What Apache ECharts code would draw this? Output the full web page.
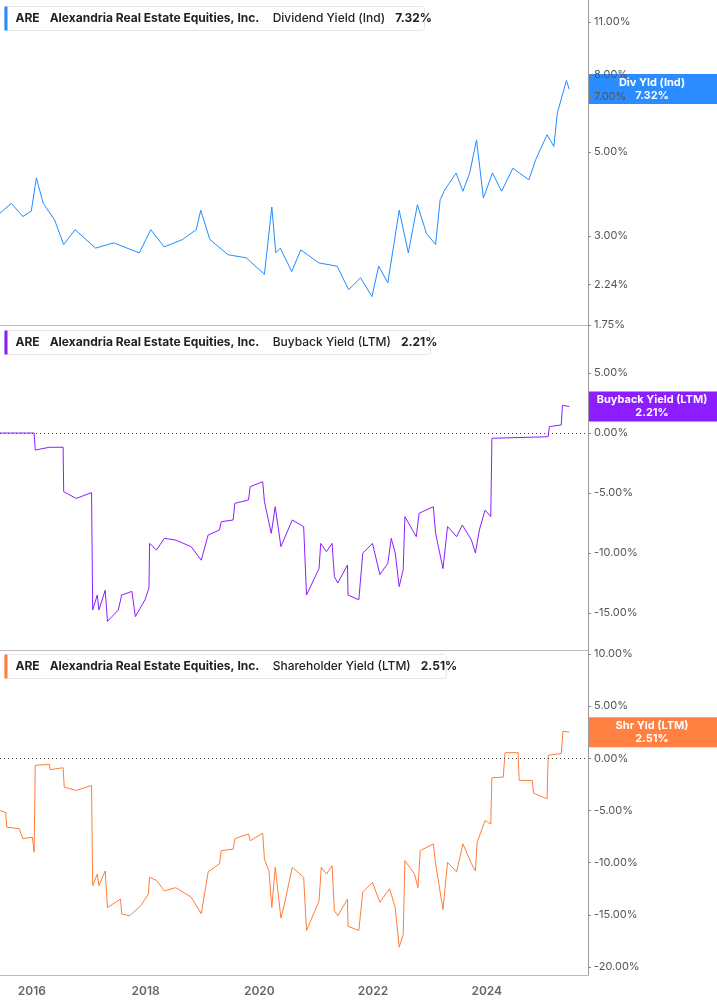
<!DOCTYPE html>
<html><head><meta charset="utf-8">
<script src="https://cdn.jsdelivr.net/npm/echarts@6/dist/echarts.min.js"></script>
<style>html,body{margin:0;padding:0;background:#fff}#c{width:717px;height:1005px}</style>
</head><body><div id="c"></div>
<script>
const yearTicks = [2016, 2018, 2020, 2022, 2024];
const divTicks = [1.75, 2.24, 3, 5, 7, 8, 11];
const buyTicks = [-15, -10, -5, 0, 5];
const shrTicks = [-20, -15, -10, -5, 0, 5, 10];

const divYield = [
[2015.44,3.45],[2015.64,3.66],[2015.84,3.38],[2015.99,3.49],[2016.08,4.27],[2016.20,3.66],[2016.40,3.31],[2016.56,2.85],[2016.76,3.12],[2017.12,2.79],[2017.44,2.88],[2017.89,2.71],[2018.09,3.12],[2018.33,2.81],[2018.65,2.94],[2018.89,3.12],[2018.97,3.51],[2019.13,2.94],[2019.45,2.68],[2019.77,2.63],[2020.09,2.38],[2020.22,3.58],[2020.29,2.71],[2020.37,2.79],[2020.57,2.42],[2020.73,2.76],[2021.05,2.55],[2021.37,2.50],[2021.57,2.17],[2021.78,2.33],[2021.98,2.08],[2022.10,2.50],[2022.26,2.26],[2022.46,3.51],[2022.62,2.71],[2022.78,3.63],[2022.94,3.05],[2023.10,2.85],[2023.18,3.74],[2023.26,3.97],[2023.46,4.40],[2023.58,3.94],[2023.70,4.40],[2023.82,5.38],[2023.94,3.78],[2024.10,4.40],[2024.26,3.94],[2024.46,4.53],[2024.74,4.22],[2024.86,4.77],[2025.06,5.55],[2025.18,5.17],[2025.24,6.32],[2025.40,7.71],[2025.45,7.32]
];
const buyback = [
[2015.44,0],[2016.04,0],[2016.06,-1.42],[2016.31,-1.19],[2016.55,-1.19],[2016.56,-4.89],[2016.78,-5.45],[2017.05,-4.97],[2017.07,-14.75],[2017.15,-13.5],[2017.18,-14.75],[2017.29,-13.1],[2017.33,-15.7],[2017.52,-14.75],[2017.58,-13.5],[2017.76,-13.2],[2017.82,-15.3],[2017.99,-13.9],[2018.06,-12.9],[2018.07,-9.2],[2018.19,-9.75],[2018.33,-8.78],[2018.53,-8.92],[2018.80,-9.47],[2018.98,-10.6],[2019.10,-8.5],[2019.30,-8.08],[2019.33,-7.39],[2019.54,-7.25],[2019.57,-5.86],[2019.81,-5.58],[2019.84,-4.47],[2020.06,-4.06],[2020.09,-5.72],[2020.21,-8.36],[2020.28,-6.14],[2020.38,-9.47],[2020.58,-7.25],[2020.78,-7.8],[2020.83,-13.5],[2021.05,-11.3],[2021.08,-9.2],[2021.18,-9.89],[2021.28,-9.2],[2021.32,-11.97],[2021.38,-12.5],[2021.55,-11.0],[2021.56,-13.5],[2021.75,-13.9],[2021.82,-10.0],[2021.99,-9.2],[2022.12,-11.8],[2022.26,-10.86],[2022.32,-8.78],[2022.39,-10.0],[2022.46,-12.8],[2022.53,-11.4],[2022.56,-6.97],[2022.76,-8.64],[2022.81,-6.69],[2023.06,-6.14],[2023.10,-8.36],[2023.23,-11.3],[2023.31,-7.8],[2023.47,-8.64],[2023.57,-7.67],[2023.73,-8.92],[2023.80,-10.0],[2023.87,-8.08],[2023.97,-6.42],[2024.07,-6.97],[2024.09,-0.44],[2025.08,-0.31],[2025.10,0.53],[2025.31,0.67],[2025.33,2.3],[2025.45,2.21]
];
const shrYield = [
[2015.44,-5.0],[2015.54,-5.2],[2015.56,-6.6],[2015.78,-6.75],[2015.84,-7.7],[2016.01,-7.56],[2016.04,-9.0],[2016.06,-0.67],[2016.31,-0.58],[2016.32,-1.09],[2016.55,-0.9],[2016.57,-2.76],[2016.78,-3.08],[2017.05,-2.6],[2017.07,-12.2],[2017.15,-11.1],[2017.18,-12.2],[2017.29,-10.8],[2017.33,-14.3],[2017.56,-13.5],[2017.58,-14.9],[2017.72,-15.1],[2017.92,-14.1],[2018.05,-13.0],[2018.07,-11.4],[2018.19,-11.7],[2018.33,-12.7],[2018.53,-12.4],[2018.80,-13.3],[2018.98,-14.9],[2019.10,-10.9],[2019.30,-10.1],[2019.33,-8.85],[2019.54,-8.7],[2019.57,-7.7],[2019.81,-7.24],[2019.84,-7.9],[2020.06,-7.18],[2020.09,-9.65],[2020.17,-10.8],[2020.22,-14.3],[2020.28,-10.45],[2020.38,-15.3],[2020.44,-14.0],[2020.58,-10.45],[2020.78,-11.4],[2020.83,-16.5],[2021.05,-13.7],[2021.09,-10.45],[2021.18,-11.1],[2021.28,-10.3],[2021.32,-14.6],[2021.38,-15.1],[2021.55,-13.5],[2021.56,-16.1],[2021.75,-16.5],[2021.82,-12.8],[2021.99,-11.9],[2022.12,-13.8],[2022.29,-12.5],[2022.39,-14.3],[2022.46,-18.1],[2022.53,-16.9],[2022.56,-9.8],[2022.73,-11.1],[2022.79,-12.4],[2022.83,-8.85],[2023.06,-8.2],[2023.10,-10.1],[2023.23,-14.5],[2023.31,-9.97],[2023.47,-10.9],[2023.58,-8.2],[2023.73,-10.1],[2023.80,-10.8],[2023.83,-8.05],[2023.97,-5.96],[2024.07,-6.3],[2024.09,-1.86],[2024.29,-1.8],[2024.32,0.54],[2024.55,0.54],[2024.57,-2.12],[2024.80,-2.12],[2024.82,-3.33],[2025.06,-3.88],[2025.08,0.29],[2025.31,0.45],[2025.34,2.6],[2025.45,2.51]
];

const BLUE='#1f8cff', PURPLE='#8b1dff', ORANGE='#ff7d3a';
const chart = echarts.init(document.getElementById('c'));
const FONT='Inter, "Noto Sans", sans-serif';
const X0=2015.44, X1=2025.78;
function xAx(i, show){
  return {type:'value', gridIndex:i, min:X0, max:X1, splitLine:{show:false},
    axisLine:{show:true, onZero:false, lineStyle:{color:'#bbb'}},
    axisTick:{show:false},
    axisLabel:{show:show, customValues:yearTicks, formatter:v=>String(v), color:'#666', fontFamily:FONT, fontWeight:600, fontSize:12, margin:10}};
}
function yAx(i, min, max, ticks, fmt, log){
  return {type:'value', gridIndex:i, position:'right', min:min, max:max, scale:true,
    splitLine:{show:false},
    axisLine:{show:true, lineStyle:{color:'#999'}},
    axisTick:{show:true, customValues:ticks.map(t=>log?Math.log(t):t), length:3, inside:false, lineStyle:{color:'#888'}},
    axisLabel:{customValues:ticks.map(t=>log?Math.log(t):t), formatter:fmt, color:'#555', fontFamily:FONT, fontSize:11, margin:6}};
}
const pct = v=>v.toFixed(2)+'%';
chart.setOption({
  animation:false,
  grid:[{left:0,right:129,top:0,height:325},{left:0,right:129,top:325,height:325},{left:0,right:129,top:650,height:325}],
  xAxis:[xAx(0,false),xAx(1,false),xAx(2,true)],
  yAxis:[
    yAx(0, Math.log(1.75), Math.log(11)+22/165, divTicks, v=>pct(Math.exp(v)), true),
    yAx(1, -15-37/12, 5+48/12, buyTicks, pct, false),
    yAx(2, -20-8/10.4, 10+4/10.4, shrTicks, pct, false)
  ],
  series:[
    {type:'line', xAxisIndex:0, yAxisIndex:0, data:divYield.map(d=>[d[0],Math.log(d[1])]), showSymbol:false, lineStyle:{width:1, color:BLUE}},
    {type:'line', xAxisIndex:1, yAxisIndex:1, data:buyback, showSymbol:false, lineStyle:{width:1, color:PURPLE},
      markLine:{silent:true, symbol:'none', label:{show:false}, lineStyle:{type:[1,3], color:'#444', width:1}, data:[{yAxis:0}]}},
    {type:'line', xAxisIndex:2, yAxisIndex:2, data:shrYield, showSymbol:false, lineStyle:{width:1, color:ORANGE},
      markLine:{silent:true, symbol:'none', label:{show:false}, lineStyle:{type:[1,3], color:'#444', width:1}, data:[{yAxis:0}]}}
  ]
});

function header(y, color, name, val, w){
  return {type:'group', left:4, top:y, children:[
    {type:'rect', shape:{x:0,y:0,width:w,height:24,r:3}, style:{fill:'#fff', stroke:'#e6e6e6'}},
    {type:'rect', shape:{x:0,y:0,width:3,height:24}, style:{fill:color}},
    {type:'text', x:11, y:12, style:{text:'{a|ARE}   {a|Alexandria Real Estate Equities, Inc.}    {b|'+name+'}   {a|'+val+'}', verticalAlign:'middle',
      rich:{a:{fontFamily:FONT, fontSize:12, fontWeight:700, fill:'#222'}, b:{fontFamily:FONT, fontSize:12, fontWeight:500, fill:'#222'}}}}
  ]};
}
function badge(gi, yv, color, l1, l2){
  const p = chart.convertToPixel({xAxisIndex:gi, yAxisIndex:gi}, [X1, yv]);
  return {type:'group', x:588, y:p[1]-15, z:100, children:[
    {type:'rect', shape:{x:0,y:0,width:129,height:30}, style:{fill:color}},
    {type:'text', x:64, y:15, style:{text:l1+'\n'+l2, align:'center', verticalAlign:'middle', fill:'#fff', font:'700 11px '+FONT, lineHeight:13}}
  ]};
}
chart.setOption({graphic:[
  header(6, BLUE, 'Dividend Yield (Ind)', '7.32%', 420),
  header(330, PURPLE, 'Buyback Yield (LTM)', '2.21%', 426),
  header(654, ORANGE, 'Shareholder Yield (LTM)', '2.51%', 442),
  badge(0, Math.log(7.32), '#2a8cff', 'Div Yld (Ind)', '7.32%'),
  badge(1, 2.21, PURPLE, 'Buyback Yield (LTM)', '2.21%'),
  badge(2, 2.51, '#ff8040', 'Shr Yld (LTM)', '2.51%')
]});
</script></body></html>
